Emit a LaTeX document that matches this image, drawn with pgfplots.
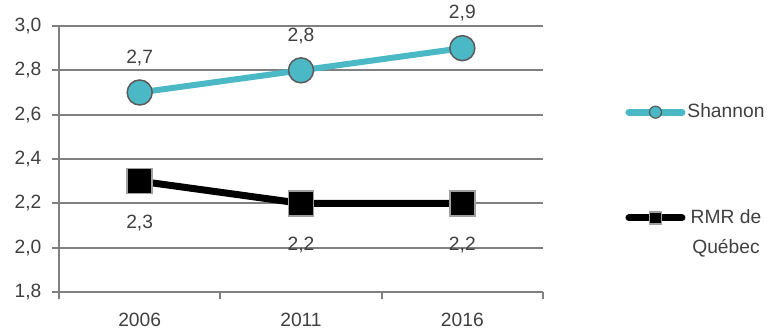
\documentclass[border=0pt]{standalone}
\usepackage{pgfplots}
\pgfplotsset{compat=1.18}
\usepackage{fontspec}
\setmainfont{Liberation Sans}
\definecolor{teal1}{RGB}{75,184,198}
\definecolor{gridc}{RGB}{128,128,128}
\definecolor{txt}{RGB}{64,64,64}
\definecolor{edgec}{RGB}{90,90,90}
\definecolor{sqedge}{RGB}{160,160,160}
\begin{document}
\fontsize{19.3}{30}\selectfont
\begin{tikzpicture}[x=1bp,y=1bp,font=\fontsize{19.3}{30}\selectfont]
\path[use as bounding box] (0,0) rectangle (767,330);
\begin{axis}[at={(59bp,38bp)}, anchor=south west, scale only axis,
  width=484bp, height=266bp,
  xmin=-0.5, xmax=2.5, ymin=1.8, ymax=3.0,
  axis lines*=left,
  axis line style={gridc, line width=1.8bp},
  ytick={1.8,2.0,2.2,2.4,2.6,2.8,3.0},
  xtick={-0.5,0.5,1.5,2.5}, xticklabels={},
  extra x ticks={0,1,2}, extra x tick labels={2006,2011,2016},
  extra x tick style={major tick length=0pt, grid=none},
  tick align=outside, major tick length=7bp,
  tick style={gridc, line width=1.8bp},
  ymajorgrids=true, grid style={gridc, line width=1.8bp},
  /pgf/number format/.cd, use comma, fixed, fixed zerofill, precision=1, assume math mode=true,
  /pgfplots/.cd,
  ticklabel style={text=txt, font=\fontsize{19.3}{22}\selectfont},
  yticklabel style={xshift=-4bp},
  xticklabel style={yshift=-14bp},
  legend style={draw=none, fill=none, at={(axis description cs:1.17,0.421)}, anchor=west,
    inner sep=0pt, row sep=85bp,
    cells={align=center, text=txt, inner sep=1bp},
    /tikz/every even column/.append style={column sep=0pt}},
  clip=false,
]
\addplot[teal1, line width=6bp, mark=*, mark size=12.5bp,
  mark options={fill=teal1, draw=edgec, line width=1.5bp},
  nodes near coords,
  every node near coord/.append style={anchor=south, inner sep=0pt, yshift=26bp, text=txt},
  legend image code/.code={
    \draw[teal1, line width=7bp, line cap=round] (3bp,0bp) -- (56bp,0bp);
    \draw[fill=teal1, draw=edgec, line width=1.2bp] (29.5bp,0bp) circle (6bp);}
] coordinates {(0,2.7) (1,2.8) (2,2.9)};
\addlegendentry{Shannon}
\addplot[black, line width=7bp, mark=square*, mark size=12.5bp,
  mark options={fill=black, draw=sqedge, line width=1.5bp},
  nodes near coords,
  every node near coord/.append style={anchor=north, inner sep=0pt, yshift=-33bp, text=txt},
  legend image code/.code={
    \draw[black, line width=7bp, line cap=round] (3bp,15bp) -- (56bp,15bp);
    \draw[fill=black, draw=sqedge, line width=1.2bp] (23.5bp,9bp) rectangle (35.5bp,21bp);}
] coordinates {(0,2.3) (1,2.2) (2,2.2)};
\addlegendentry{RMR de\\Québec}
\end{axis}
\end{tikzpicture}
\end{document}
